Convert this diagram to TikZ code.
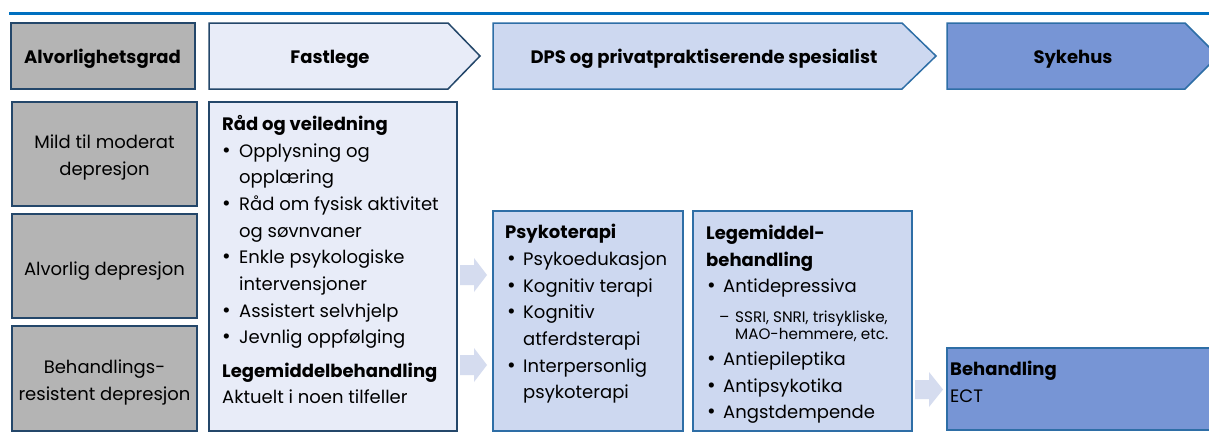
\documentclass[tikz,border=0pt]{standalone}
\usepackage{fontspec}
\setmainfont{Poppins}
\newcommand\bodyfont{\fontsize{18}{22}\selectfont}
\newcommand\subfont{\fontsize{15.2}{18}\selectfont}
\definecolor{topblue}{HTML}{0070C0}
\definecolor{navy}{HTML}{24476A}
\definecolor{midblue}{HTML}{2E6EA6}
\definecolor{greyfill}{HTML}{B4B4B4}
\definecolor{palefill}{HTML}{E8ECF8}
\definecolor{lightfill}{HTML}{CDD8F0}
\definecolor{strongfill}{HTML}{7795D5}
\definecolor{arrowfill}{HTML}{D5DCEF}
\tikzset{
  greybox/.style={draw=navy, fill=greyfill, line width=1.5pt, inner sep=0pt},
  palebox/.style={draw=navy, fill=palefill, line width=1.5pt},
  lightbox/.style={draw=midblue, fill=lightfill, line width=1.5pt},
  strongbox/.style={draw=midblue, fill=strongfill, line width=1.5pt},
  blockarrow/.style={fill=arrowfill, draw=none},
  txt/.style={anchor=base west, inner sep=0pt, font=\bodyfont},
  ctxt/.style={anchor=base, inner sep=0pt, font=\bodyfont},
  hd/.style={anchor=base west, inner sep=0pt, font=\bodyfont\bfseries},
  sub/.style={anchor=base west, inner sep=0pt, font=\subfont},
  bul/.style={anchor=base west, inner sep=0pt, font=\fontsize{21}{22}\selectfont},
  headtxt/.style={anchor=base, inner sep=0pt, font=\bodyfont\bfseries},
}
\begin{document}
\begin{tikzpicture}[x=1pt,y=-1pt]
\useasboundingbox (0,0) rectangle (1209,440);
\fill[white] (0,0) rectangle (1209,440);
% top rule
\fill[topblue] (9,11.5) rectangle (1215,15.2);

% header row
\node[greybox, minimum width=184pt, minimum height=66pt] (hgrad) at (103,56) {};
\node[headtxt] (tgrad) at (102.5,63) {Alvorlighetsgrad};
\draw[palebox] (209,23) -- (448,23) -- (480,56) -- (448,89) -- (209,89) -- cycle;
\node[headtxt] (tfast) at (330,63) {Fastlege};
\draw[lightbox] (493,23) -- (902,23) -- (936,56) -- (902,89) -- (493,89) -- cycle;
\node[headtxt] (tdps) at (704,63) {DPS og privatpraktiserende spesialist};
\draw[strongbox] (947,23) -- (1185,23) -- (1218,56) -- (1185,89) -- (947,89) -- cycle;
\node[headtxt] (tsyk) at (1073,63) {Sykehus};

% left column
\node[greybox, minimum width=185pt, minimum height=104pt] (mild) at (104.5,154) {};
\node[ctxt] (mild1) at (104.5,148) {Mild til moderat};
\node[ctxt] (mild2) at (104.5,175) {depresjon};
\node[greybox, minimum width=185pt, minimum height=104pt] (alv) at (104.5,266) {};
\node[ctxt] (alv1) at (104.5,275) {Alvorlig depresjon};
\node[greybox, minimum width=185pt, minimum height=105pt] (beh) at (104.5,378.5) {};
\node[ctxt] (beh1) at (104.5,373) {Behandlings-};
\node[ctxt] (beh2) at (104.5,400) {resistent depresjon};

% Fastlege body
\draw[palebox] (209,102) rectangle (457,431);
\node[hd]  (f1)  at (222,130) {Råd og veiledning};
\node[bul] (fb1) at (222,157) {•};
\node[txt] (f2)  at (239,157) {Opplysning og};
\node[txt] (f3)  at (239,183) {opplæring};
\node[bul] (fb2) at (222,210) {•};
\node[txt] (f4)  at (239,210) {Råd om fysisk aktivitet};
\node[txt] (f5)  at (239,237) {og søvnvaner};
\node[bul] (fb3) at (222,263) {•};
\node[txt] (f6)  at (239,263) {Enkle psykologiske};
\node[txt] (f7)  at (239,290) {intervensjoner};
\node[bul] (fb4) at (222,317) {•};
\node[txt] (f8)  at (239,317) {Assistert selvhjelp};
\node[bul] (fb5) at (222,343) {•};
\node[txt] (f9)  at (239,343) {Jevnlig oppfølging};
\node[hd]  (f10) at (222,377) {Legemiddelbehandling};
\node[txt] (f11) at (222,403) {Aktuelt i noen tilfeller};

% arrows
\fill[blockarrow] (460,265) -- (474,265) -- (474,258) -- (487,275) -- (474,292) -- (474,285) -- (460,285) -- cycle;
\fill[blockarrow] (460,355) -- (474,355) -- (474,348) -- (487,365) -- (474,382) -- (474,375) -- (460,375) -- cycle;
\fill[blockarrow] (915,380) -- (929,380) -- (929,372) -- (943,389.5) -- (929,407) -- (929,399) -- (915,399) -- cycle;

% Psykoterapi
\draw[lightbox] (493,211) rectangle (683,431);
\node[hd]  (p1)  at (505,238) {Psykoterapi};
\node[bul] (pb1) at (507,265) {•};
\node[txt] (p2)  at (523,265) {Psykoedukasjon};
\node[bul] (pb2) at (507,292) {•};
\node[txt] (p3)  at (523,292) {Kognitiv terapi};
\node[bul] (pb3) at (507,318) {•};
\node[txt] (p4)  at (523,318) {Kognitiv};
\node[txt] (p5)  at (523,345) {atferdsterapi};
\node[bul] (pb4) at (507,372) {•};
\node[txt] (p6)  at (523,372) {Interpersonlig};
\node[txt] (p7)  at (523,398) {psykoterapi};

% Legemiddelbehandling
\draw[lightbox] (693,211) rectangle (912,431);
\node[hd]  (l1)  at (706,239) {Legemiddel-};
\node[hd]  (l2)  at (706,266) {behandling};
\node[bul] (lb1) at (707,292) {•};
\node[txt] (l3)  at (723,292) {Antidepressiva};
\node[sub] (ld1) at (719,322) {–};
\node[sub] (l4)  at (735,322) {SSRI, SNRI, trisykliske,};
\node[sub] (l5)  at (735,339) {MAO-hemmere, etc.};
\node[bul] (lb2) at (707,365) {•};
\node[txt] (l6)  at (723,365) {Antiepileptika};
\node[bul] (lb3) at (707,392) {•};
\node[txt] (l7)  at (723,392) {Antipsykotika};
\node[bul] (lb4) at (707,418) {•};
\node[txt] (l8)  at (723,418) {Angstdempende};

% Sykehus Behandling
\draw[strongbox] (947,348) rectangle (1216,430);
\node[hd]  (s1) at (950,375) {Behandling};
\node[txt] (s2) at (950,402) {ECT};
\end{tikzpicture}
\end{document}
